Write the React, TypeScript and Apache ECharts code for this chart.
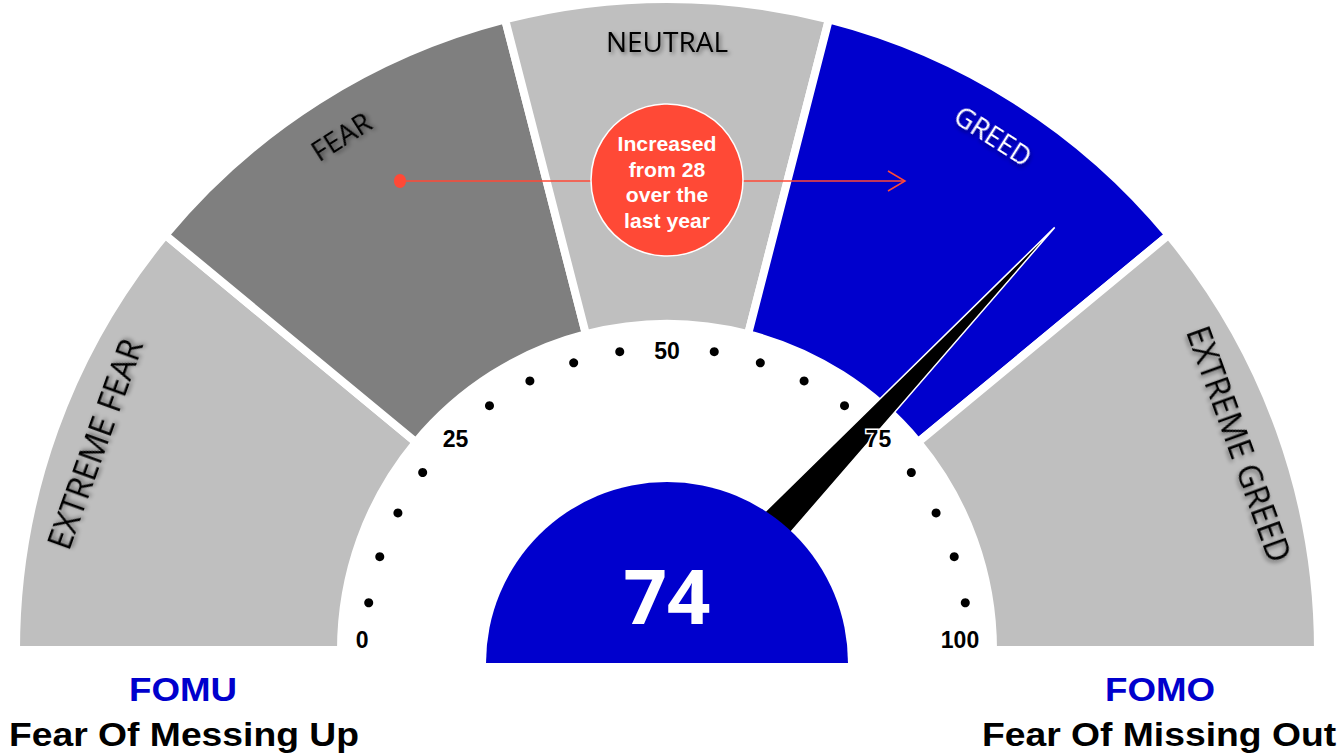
import React, { useEffect, useRef } from 'react';
import * as echarts from 'echarts';

// ---------- data ----------
const SEGMENT_NAMES = ['EXTREME FEAR', 'FEAR', 'NEUTRAL', 'GREED', 'EXTREME GREED'];
const SEGMENT_SPANS = [22, 20, 16, 20, 22];
const SCALE_MIN = 0;
const SCALE_MAX = 100;
const TICK_LABELS = [0, 25, 50, 75, 100];
const TICK_DOTS = [5, 10, 15, 20, 30, 35, 40, 45, 55, 60, 65, 70, 80, 85, 90, 95];
const SCORE = 74;
const PREVIOUS_SCORE = 28;
const CALLOUT_TEXT = `Increased\nfrom ${PREVIOUS_SCORE}\nover the\nlast year`;
const LEFT_TITLE = 'FOMU';
const LEFT_SUBTITLE = 'Fear Of Messing Up';
const RIGHT_TITLE = 'FOMO';
const RIGHT_SUBTITLE = 'Fear Of Missing Out';

// ---------- style ----------
const SEGMENT_COLORS = ['#BFBFBF', '#7F7F7F', '#BFBFBF', '#0000CD', '#BFBFBF'];
const SEGMENT_TEXT_COLORS = ['#000', '#000', '#000', '#fff', '#000'];
const SEGMENT_FONT_SIZES = [32, 28, 28, 27, 32];
const BLUE = '#0000CD';
const RED = '#FF4936';
const CX = 667;
const CY = 650;
const BOLD_FONT = '"Liberation Sans", Arial, sans-serif';

export default function App() {
  const ref = useRef<HTMLDivElement>(null);

  useEffect(() => {
    if (!ref.current) return;
    const chart = echarts.init(ref.current, undefined, { renderer: 'svg' });

    const bandData = SEGMENT_SPANS.map((v, i) => ({
      value: v,
      name: SEGMENT_NAMES[i],
      itemStyle: { color: SEGMENT_COLORS[i] },
    }));
    const hiddenHalf = {
      value: SCALE_MAX - SCALE_MIN,
      name: '',
      itemStyle: { color: 'rgba(0,0,0,0)', borderWidth: 0 },
      label: { show: false },
    };

    const labelData = SEGMENT_SPANS.map((v, i) => ({
      value: v,
      name: SEGMENT_NAMES[i],
      label: { color: SEGMENT_TEXT_COLORS[i], fontSize: SEGMENT_FONT_SIZES[i] },
    }));

    const centeredText = (text: string, x: number, y: number, size: number, color: string, scaleX: number) => ({
      type: 'text',
      z: 100,
      x,
      y,
      scaleX,
      style: {
        text,
        fill: color,
        fontFamily: BOLD_FONT,
        fontWeight: 'bold',
        fontSize: size,
        align: 'center',
        verticalAlign: 'middle',
        textAlign: 'center',
        textVerticalAlign: 'middle',
      },
    });

    const option: any = {
      animation: false,
      backgroundColor: '#fff',
      polar: { center: [CX, CY], radius: [0, 302] },
      angleAxis: {
        type: 'value',
        min: SCALE_MIN,
        max: SCALE_MIN + (SCALE_MAX - SCALE_MIN) * 2,
        startAngle: 180,
        clockwise: true,
        show: false,
      },
      radiusAxis: { type: 'value', min: 0, max: 1, show: false },
      series: [
        {
          type: 'pie',
          silent: true,
          center: [CX, CY],
          radius: [326, 651],
          startAngle: 180,
          clockwise: true,
          label: { show: false },
          labelLine: { show: false },
          emphasis: { disabled: true },
          itemStyle: { borderColor: '#fff', borderWidth: 8 },
          data: [...bandData, hiddenHalf],
          z: 1,
        },
        {
          type: 'pie',
          silent: true,
          center: [CX, CY],
          radius: [566, 646],
          startAngle: 180,
          clockwise: true,
          itemStyle: { color: 'rgba(0,0,0,0)' },
          labelLine: { show: false },
          emphasis: { disabled: true },
          label: {
            show: true,
            position: 'inside',
            rotate: 'tangential',
            formatter: '{b}',
            fontFamily: '"Open Sans", sans-serif',
            fontSize: 28,
            textShadowColor: 'rgba(0,0,0,0.45)',
            textShadowBlur: 4,
            textShadowOffsetX: 2,
            textShadowOffsetY: 2,
          },
          data: [...labelData, { ...hiddenHalf, itemStyle: { color: 'rgba(0,0,0,0)' } }],
          z: 3,
        },
        {
          type: 'scatter',
          coordinateSystem: 'polar',
          silent: true,
          symbol: 'circle',
          symbolSize: 9,
          itemStyle: { color: '#000', opacity: 1 },
          data: TICK_DOTS.map((v) => [1, v]),
          z: 3,
        },
        {
          type: 'scatter',
          coordinateSystem: 'polar',
          silent: true,
          symbolSize: 0,
          itemStyle: { color: 'rgba(0,0,0,0)', opacity: 1 },
          label: {
            show: true,
            position: 'inside',
            formatter: (p: any) => String(p.value[1]),
            color: '#000',
            opacity: 1,
            fontFamily: BOLD_FONT,
            fontWeight: 'bold',
            fontSize: 23,
            textBorderColor: '#fff',
            textBorderWidth: 3,
          },
          data: TICK_LABELS.map((v) => ({
            value: [0.99, v],
            label: v === SCALE_MIN || v === SCALE_MAX ? { offset: [-6, -10] } : {},
          })),
          z: 6,
        },
        {
          type: 'gauge',
          silent: true,
          center: [CX, 640],
          radius: 566,
          startAngle: 180,
          endAngle: 0,
          min: SCALE_MIN,
          max: SCALE_MAX,
          axisLine: { show: false },
          axisTick: { show: false },
          splitLine: { show: false },
          axisLabel: { show: false },
          progress: { show: false },
          anchor: { show: false },
          title: { show: false },
          detail: { show: false },
          pointer: {
            show: true,
            icon: 'path://M0 100 L50 0 L100 100 Z',
            width: 46,
            length: '100%',
            offsetCenter: [0, 0],
            keepAspect: false,
            itemStyle: { color: '#000', borderColor: '#fff', borderWidth: 1.5 },
          },
          data: [{ value: SCORE }],
          z: 4,
        },
        {
          type: 'gauge',
          silent: true,
          center: [CX, 663],
          radius: 181,
          startAngle: 180,
          endAngle: 0,
          min: SCALE_MIN,
          max: SCALE_MAX,
          axisLine: { show: true, lineStyle: { width: 181, color: [[1, BLUE]] } },
          axisTick: { show: false },
          splitLine: { show: false },
          axisLabel: { show: false },
          progress: { show: false },
          pointer: { show: false },
          anchor: { show: false },
          title: { show: false },
          detail: {
            show: true,
            offsetCenter: [0, '-38%'],
            formatter: '{value}',
            color: '#fff',
            fontSize: 76,
            fontWeight: 'bold',
            fontFamily: '"Open Sans", sans-serif',
          },
          data: [{ value: SCORE }],
          z: 5,
        },
      ],
      graphic: [
        {
          type: 'line',
          z: 100,
          shape: { x1: 400, y1: 181, x2: 905, y2: 181 },
          style: { stroke: RED, lineWidth: 1.5 },
        },
        {
          type: 'polyline',
          z: 100,
          shape: { points: [[888, 171], [905, 181], [888, 191]] },
          style: { stroke: RED, lineWidth: 1.5, fill: null },
        },
        {
          type: 'ellipse',
          z: 100,
          shape: { cx: 400, cy: 181, rx: 6, ry: 7 },
          style: { fill: RED },
        },
        {
          type: 'circle',
          z: 101,
          shape: { cx: 667, cy: 180, r: 76 },
          style: { fill: RED, stroke: '#fff', lineWidth: 1.5 },
        },
        {
          type: 'text',
          z: 102,
          x: 667,
          y: 182,
          scaleX: 1.06,
          style: {
            text: CALLOUT_TEXT,
            fill: '#fff',
            fontFamily: BOLD_FONT,
            fontWeight: 'bold',
            fontSize: 20,
            lineHeight: 25.5,
            align: 'center',
            verticalAlign: 'middle',
            textAlign: 'center',
            textVerticalAlign: 'middle',
          },
        },
        centeredText(LEFT_TITLE, 183, 689, 34, BLUE, 1.08),
        centeredText(LEFT_SUBTITLE, 184, 734, 33, '#000', 1.13),
        centeredText(RIGHT_TITLE, 1160, 689, 34, BLUE, 1.08),
        centeredText(RIGHT_SUBTITLE, 1159, 734, 33, '#000', 1.13),
      ],
    };

    chart.setOption(option);
    return () => chart.dispose();
  }, []);

  return (
    <div
      ref={ref}
      style={{ position: 'fixed', left: 0, top: 0, width: 1344, height: 755 }}
    />
  );
}
